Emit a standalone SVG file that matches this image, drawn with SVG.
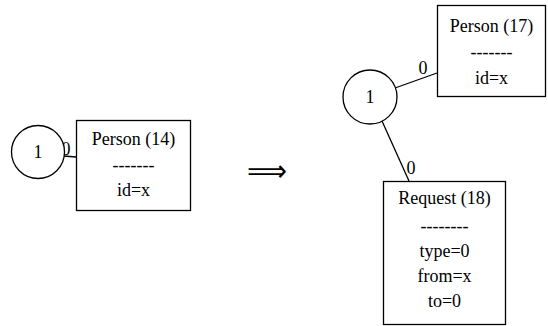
<svg xmlns="http://www.w3.org/2000/svg" width="548" height="326" viewBox="0 0 548 326">
<style>
  .t { font-family: "Liberation Serif", "Times New Roman", "DejaVu Serif", serif; font-size: 18px; fill: #000; text-anchor: middle; }
  .shape { fill: #fff; stroke: #000; stroke-width: 1.3; }
  .edge { stroke: #000; stroke-width: 1.3; fill: none; }
  .arrow { font-family: "DejaVu Sans", sans-serif; font-size: 30px; text-anchor: middle; fill: #000; }
</style>
<rect width="548" height="326" fill="#fff"/>
<g id="connectors">
  <line class="edge" x1="64" y1="156" x2="76" y2="157"/>
  <text class="t" x="66" y="155">0</text>
  <line class="edge" x1="395" y1="88" x2="437" y2="73"/>
  <text class="t" x="423" y="74">0</text>
  <line class="edge" x1="382" y1="121" x2="409" y2="181"/>
  <text class="t" x="411" y="174">0</text>
</g>
<g id="left-circle">
  <circle class="shape" cx="38" cy="152" r="26.5"/>
  <text class="t" x="38" y="158">1</text>
</g>
<g id="person14">
  <rect class="shape" x="76.5" y="120.5" width="114" height="90"/>
  <text class="t" x="133.5" y="145">Person (14)</text>
  <text class="t" x="133.5" y="171">-------</text>
  <text class="t" x="133.5" y="196">id=x</text>
</g>
<g id="implies">
  <text class="arrow" x="267" y="181" textLength="40" lengthAdjust="spacingAndGlyphs">⟹</text>
</g>
<g id="right-circle">
  <circle class="shape" cx="370" cy="97" r="27"/>
  <text class="t" x="370" y="103">1</text>
</g>
<g id="person17">
  <rect class="shape" x="437.5" y="5.5" width="108" height="91"/>
  <text class="t" x="491.5" y="32">Person (17)</text>
  <text class="t" x="491.5" y="58">-------</text>
  <text class="t" x="491.5" y="84">id=x</text>
</g>
<g id="request18">
  <rect class="shape" x="383.5" y="181.5" width="122" height="143"/>
  <text class="t" x="444.5" y="204">Request (18)</text>
  <text class="t" x="444.5" y="232">--------</text>
  <text class="t" x="444.5" y="257">type=0</text>
  <text class="t" x="444.5" y="282">from=x</text>
  <text class="t" x="444.5" y="307">to=0</text>
</g>
</svg>
